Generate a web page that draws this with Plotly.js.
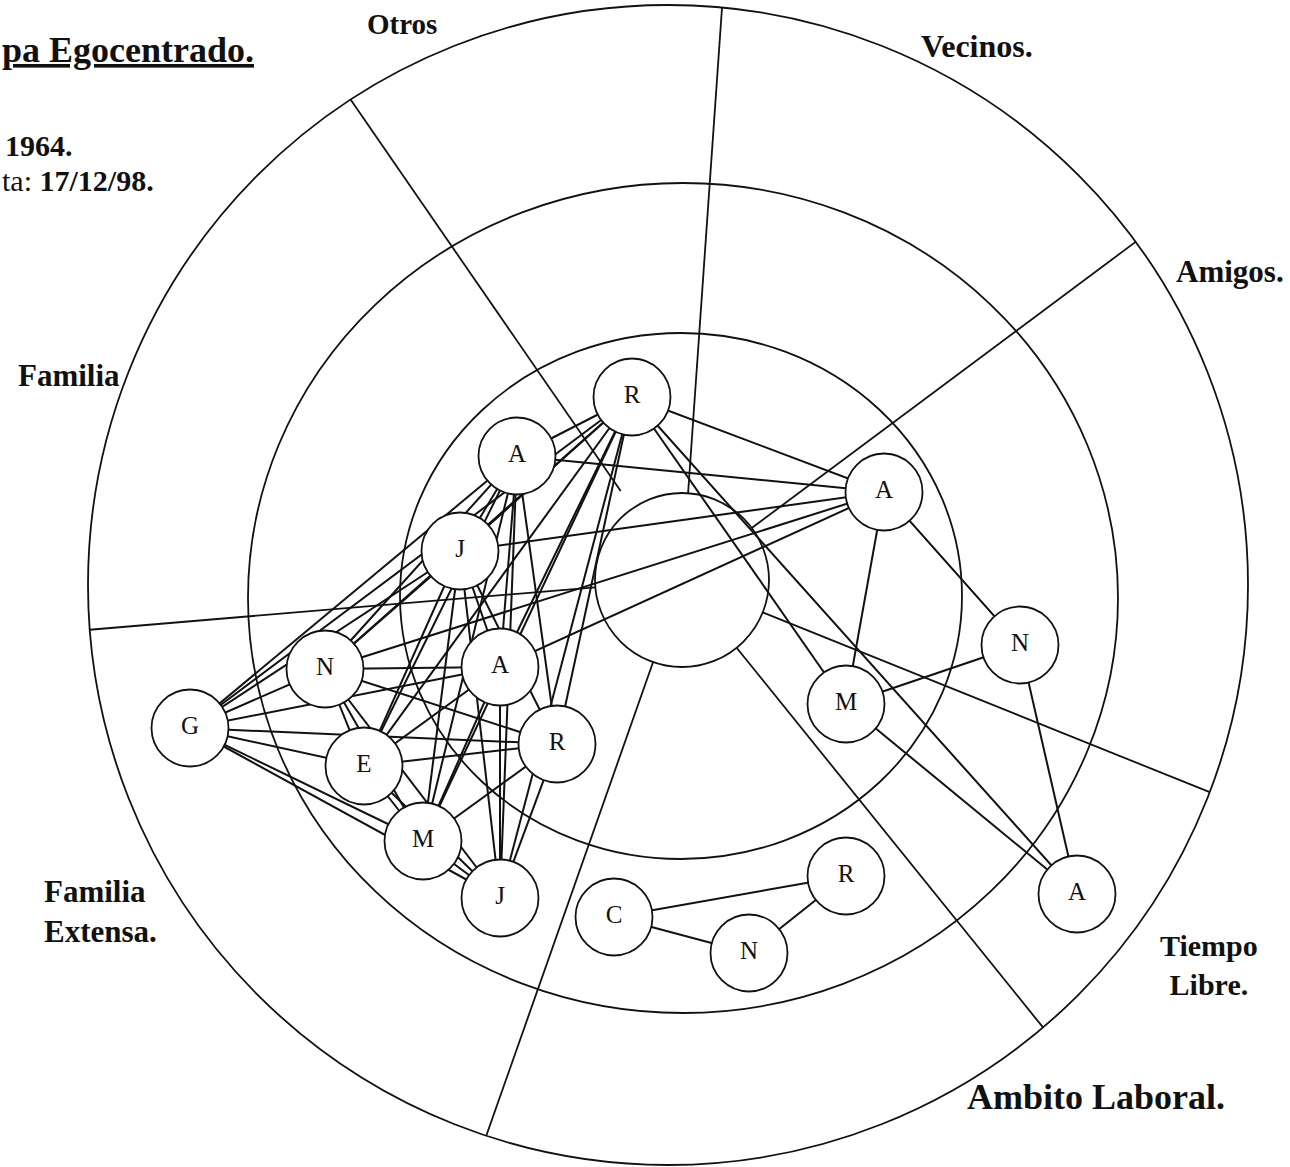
<!DOCTYPE html>
<html><head><meta charset="utf-8">
<script src="https://cdn.plot.ly/plotly-3.0.1.min.js"></script>
<style>html,body{margin:0;padding:0;background:#fff}#chart{width:1290px;height:1167px}</style>
</head><body><div id="chart"></div>
<script>
// ---- data ----
const nodeLabel = ["R","A","J","N","A","G","E","R","M","J","A","N","M","A","C","N","R"];
const nodeX = [632,517,460,325,500,190,364,557,423,500,884,1020,846,1077,614,749,846];
const nodeY = [397,456,551,669,667,728,766,744,841,898,492,645,704,894,917,953,876];
const edgeFrom = [0,0,0,1,2,3,4,10,10,12,11,12, 14,14,15, 5,5,5,5,5,5,5,5,5, 0,0,0,0,0,0,0,0, 1,1,1,1,1,1,1, 2,2,2,2,2,2, 3,3,3,3,3, 4,4,4, 6,6,6, 7,7, 8];
const edgeTo   = [10,12,13,10,10,10,10,11,12,11,13,13, 16,15,16, 0,1,2,3,4,6,7,8,9, 1,2,3,4,6,7,8,9, 2,3,4,6,7,8,9, 3,4,6,7,8,9, 4,6,7,8,9, 6,8,9, 7,8,9, 8,9, 9];
const egoX = 682, egoY = 580, egoR = 87;
const ringCX = [668,683,681];
const ringCY = [585,598,596];
const ringRX = [580,435,281];
const ringRY = [580,415,263];
const sectorAngle = [124.6, 86, 36.7, -21.9, -51.1, 250.6, 184.8];
const sectorInnerR = [108, 87, 87, 87, 87, 87, 87];
const sectorLabel = ["Otros","Vecinos.","Amigos.","Tiempo<br>Libre.","Ambito Laboral.","Familia<br>Extensa.","Familia"];

// ---- build ----
const FONT = "Liberation Serif, Times New Roman, serif";
const ex = [], ey = [];
for (let k = 0; k < edgeFrom.length; k++) {
  ex.push(nodeX[edgeFrom[k]], nodeX[edgeTo[k]], null);
  ey.push(nodeY[edgeFrom[k]], nodeY[edgeTo[k]], null);
}
// sector boundary rays from ego circle to outer ring
const sx = [], sy = [];
const wx = egoX - ringCX[0], wy = egoY - ringCY[0];
for (let k = 0; k < sectorAngle.length; k++) {
  const a = sectorAngle[k] * Math.PI / 180;
  const dx = Math.cos(a), dy = -Math.sin(a);
  const b = wx*dx + wy*dy;
  const t = -b + Math.sqrt(b*b - (wx*wx + wy*wy) + ringRX[0]*ringRX[0]);
  sx.push(egoX + dx*sectorInnerR[k], egoX + dx*t, null);
  sy.push(egoY + dy*sectorInnerR[k], egoY + dy*t, null);
}

const traces = [
  {x: sx, y: sy, mode: 'lines', line: {color: '#111', width: 1.8}, hoverinfo: 'skip'},
  {x: ex, y: ey, mode: 'lines', line: {color: '#111', width: 2}, hoverinfo: 'skip'},
  {x: [egoX], y: [egoY], mode: 'markers', hoverinfo: 'skip',
   marker: {size: egoR*2, color: 'rgba(0,0,0,0)', line: {color: '#111', width: 1.8}}},
  {x: nodeX, y: nodeY, text: nodeLabel, mode: 'markers+text', textposition: 'middle center',
   hoverinfo: 'skip', textfont: {family: FONT, size: 25, color: '#111'},
   marker: {size: 77, color: '#fff', line: {color: '#111', width: 1.8}}}
];

const shapes = ringCX.map((cx, i) => ({
  type: 'circle', xref: 'x', yref: 'y', layer: 'below',
  x0: cx - ringRX[i], x1: cx + ringRX[i], y0: ringCY[i] - ringRY[i], y1: ringCY[i] + ringRY[i],
  line: {color: '#111', width: 1.8}
}));

const labelPos = [
  {x: 402, y: 24, xanchor: 'center', size: 29},
  {x: 977, y: 46, xanchor: 'center', size: 32},
  {x: 1174, y: 271, xanchor: 'left', size: 31},
  {x: 1209, y: 965, xanchor: 'center', size: 30},
  {x: 1096, y: 1097, xanchor: 'center', size: 36},
  {x: 42, y: 911, xanchor: 'left', size: 31},
  {x: 16, y: 375, xanchor: 'left', size: 31}
];
const annotations = sectorLabel.map((t, i) => ({
  text: '<b>' + t + '</b>', x: labelPos[i].x, y: labelPos[i].y, xref: 'x', yref: 'y',
  xanchor: labelPos[i].xanchor, yanchor: 'middle', showarrow: false, align: 'center',
  font: {family: FONT, size: labelPos[i].size, color: '#111'}
}));
annotations[5].align = 'left';
annotations.push(
  {text: '<b>pa Egocentrado.</b>', x: 0, y: 50, xref: 'x', yref: 'y', xanchor: 'left', yanchor: 'middle',
   showarrow: false, font: {family: FONT, size: 36, color: '#111', lineposition: 'under'}},
  {text: '<b>1964.</b>', x: 3, y: 145, xref: 'x', yref: 'y', xanchor: 'left', yanchor: 'middle',
   showarrow: false, font: {family: FONT, size: 30, color: '#111'}},
  {text: 'ta: <b>17/12/98.</b>', x: 0, y: 180, xref: 'x', yref: 'y', xanchor: 'left', yanchor: 'middle',
   showarrow: false, font: {family: FONT, size: 30, color: '#111'}}
);

const layout = {
  width: 1290, height: 1167, margin: {l: 0, r: 0, t: 0, b: 0},
  paper_bgcolor: '#fff', plot_bgcolor: '#fff', showlegend: false, hovermode: false,
  xaxis: {range: [0, 1290], visible: false, fixedrange: true},
  yaxis: {range: [1167, 0], visible: false, fixedrange: true},
  shapes: shapes, annotations: annotations
};
Plotly.newPlot('chart', traces, layout, {displayModeBar: false, staticPlot: true});
</script></body></html>
